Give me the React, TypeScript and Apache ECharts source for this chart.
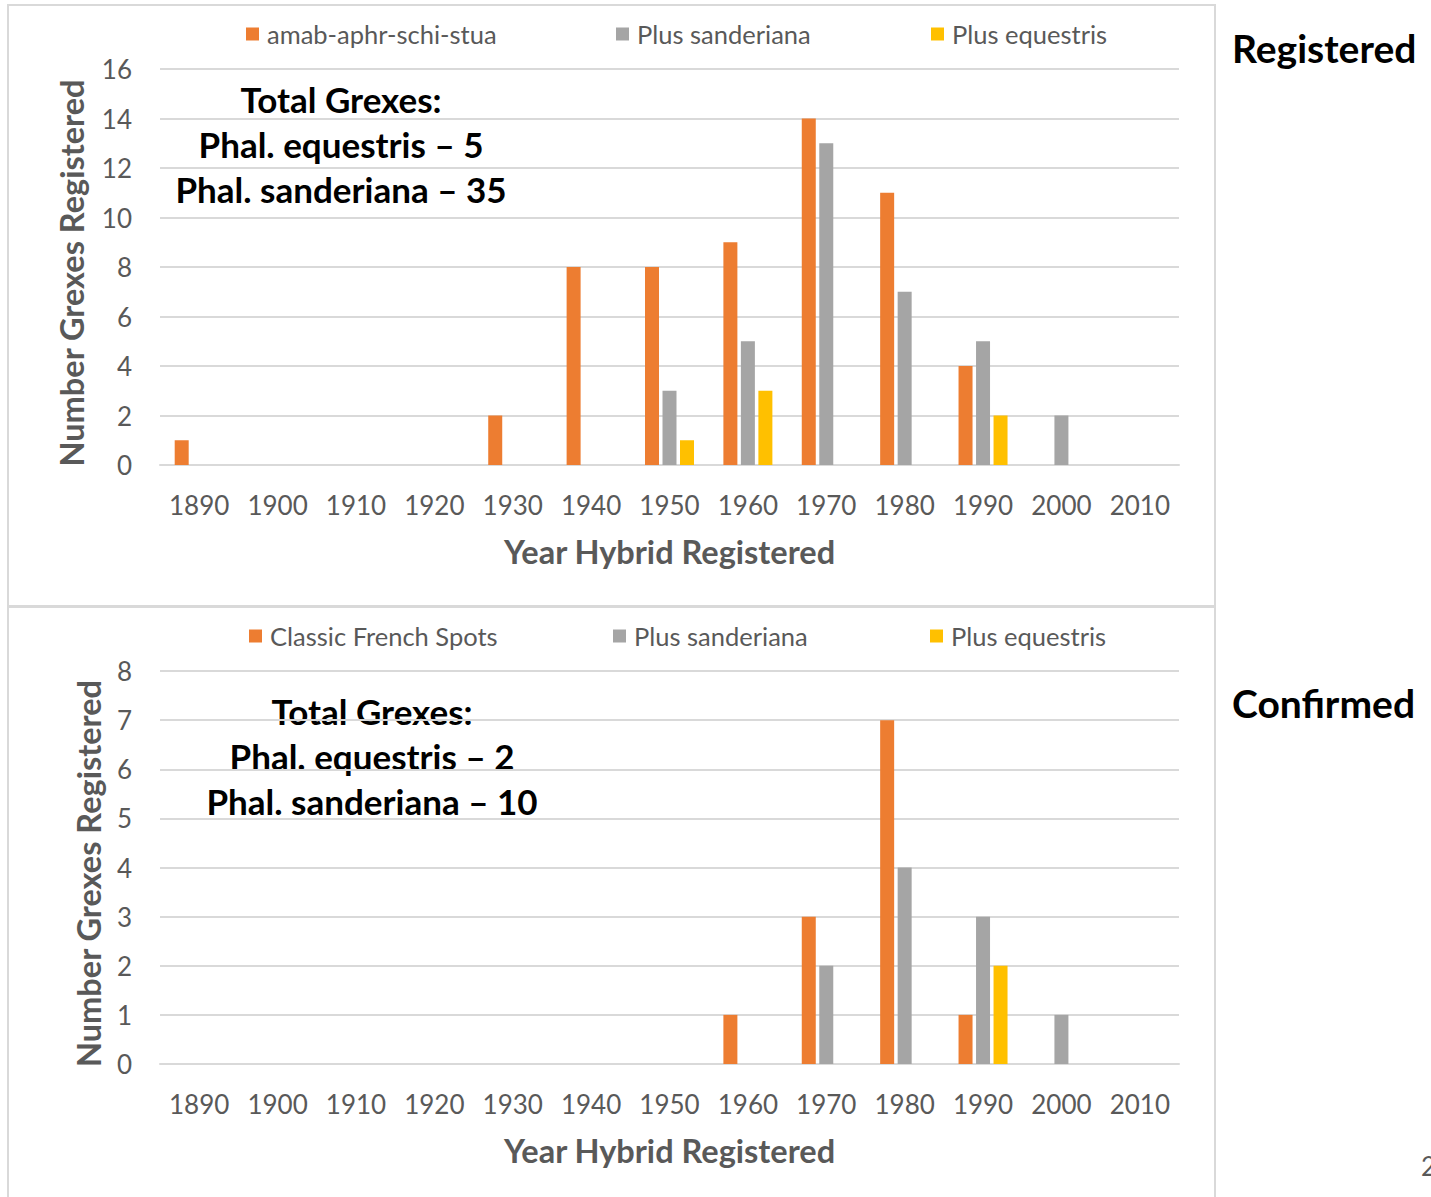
import React, { useEffect, useRef } from "react";
import * as echarts from "echarts";

const years = ["1890", "1900", "1910", "1920", "1930", "1940", "1950", "1960", "1970", "1980", "1990", "2000", "2010"];

// Top chart: Registered
const regNames = ["amab-aphr-schi-stua", "Plus sanderiana", "Plus equestris"];
const regBase = [1, 0, 0, 0, 2, 8, 8, 9, 14, 11, 4, 0, 0];
const regSanderiana = [0, 0, 0, 0, 0, 0, 3, 5, 13, 7, 5, 2, 0];
const regEquestris = [0, 0, 0, 0, 0, 0, 1, 3, 0, 0, 2, 0, 0];
const regTicks = { min: 0, max: 16, interval: 2 };
const regNote = ["Total Grexes:", "Phal. equestris \u2013 5", "Phal. sanderiana \u2013 35"];

// Bottom chart: Confirmed
const confNames = ["Classic French Spots", "Plus sanderiana", "Plus equestris"];
const confBase = [0, 0, 0, 0, 0, 0, 0, 1, 3, 7, 1, 0, 0];
const confSanderiana = [0, 0, 0, 0, 0, 0, 0, 0, 2, 4, 3, 1, 0];
const confEquestris = [0, 0, 0, 0, 0, 0, 0, 0, 0, 0, 2, 0, 0];
const confTicks = { min: 0, max: 8, interval: 1 };
const confNote = ["Total Grexes:", "Phal. equestris \u2013 2", "Phal. sanderiana \u2013 10"];

const colors = ["#ED7D31", "#A5A5A5", "#FFC000"];
const FONT = "Lato, 'Noto Sans', sans-serif";
const GRAY = "#595959";
const LINE = "#d9d9d9";

export default function App() {
  const ref = useRef<HTMLDivElement>(null);
  useEffect(() => {
    document.body.style.margin = "0";
    if (!ref.current) return;
    const chart = echarts.init(ref.current, undefined, { renderer: "svg" });

    const grids = [
      { left: 160, right: 252, top: 69, height: 396 },
      { left: 160, right: 252, top: 671, height: 393 },
    ];

    const xAxis = [0, 1].map((i) => ({
      type: "category",
      gridIndex: i,
      data: years,
      axisTick: { show: false },
      axisLine: { show: true, lineStyle: { color: LINE, width: 2 } },
      axisLabel: { color: GRAY, fontSize: 26, fontFamily: FONT, margin: 27, interval: 0, hideOverlap: false },
      name: "Year Hybrid Registered",
      nameLocation: "middle",
      nameGap: 70,
      nameTextStyle: { color: GRAY, fontSize: 32.5, fontWeight: "bold", fontFamily: FONT },
    }));

    const tickSets = [regTicks, confTicks];
    const yAxis = [0, 1].map((i) => ({
      type: "value",
      gridIndex: i,
      min: tickSets[i].min,
      max: tickSets[i].max,
      interval: tickSets[i].interval,
      axisLine: { show: false },
      axisTick: { show: false },
      splitLine: { lineStyle: { color: LINE, width: 2 } },
      axisLabel: { color: GRAY, fontSize: 26, fontFamily: FONT, margin: 28 },
      name: "Number Grexes Registered",
      nameLocation: "middle",
      nameGap: i === 0 ? 72 : 55,
      nameTextStyle: { color: GRAY, fontSize: 32.5, fontWeight: "bold", fontFamily: FONT, padding: [0, 12, 0, 0] },
    }));

    const mk = (name: string, data: number[], idx: number, color: string) => ({
      type: "bar",
      name,
      data,
      xAxisIndex: idx,
      yAxisIndex: idx,
      barWidth: 14,
      barGap: "25%",
      itemStyle: { color },
    });

    const series = [
      mk(regNames[0], regBase, 0, colors[0]),
      mk(regNames[1], regSanderiana, 0, colors[1]),
      mk(regNames[2], regEquestris, 0, colors[2]),
      mk(confNames[0], confBase, 1, colors[0]),
      mk(confNames[1], confSanderiana, 1, colors[1]),
      mk(confNames[2], confEquestris, 1, colors[2]),
    ];

    const legendPos = [
      { name: regNames[0], left: 246, top: 21 },
      { name: regNames[1], left: 616, top: 21 },
      { name: regNames[2], left: 931, top: 21 },
      { name: confNames[0], left: 249, top: 623 },
      { name: confNames[1], left: 613, top: 623 },
      { name: confNames[2], left: 930, top: 623 },
    ];
    const legend = legendPos.map((l) => ({
      data: [l.name],
      left: l.left,
      top: l.top,
      icon: "rect",
      itemWidth: 13,
      itemHeight: 13,
      padding: 0,
      selectedMode: false,
      textStyle: { color: GRAY, fontSize: 25.5, fontFamily: FONT, padding: [0, 0, 0, 3] },
    }));

    const noteText = (lines: string[], cx: number, y0: number) =>
      lines.map((t, k) => ({
        type: "text",
        x: cx,
        y: y0 + k * 45,
        style: {
          text: t,
          fill: "#000",
          font: `bold 35px ${FONT}`,
          textAlign: "center",
          textVerticalAlign: "middle",
        },
      }));

    const graphic = [
      { type: "rect", shape: { x: 8, y: 5, width: 1207, height: 601 }, style: { fill: "none", stroke: LINE, lineWidth: 2 } },
      { type: "rect", shape: { x: 8, y: 607, width: 1207, height: 600 }, style: { fill: "none", stroke: LINE, lineWidth: 2 } },
      ...noteText(regNote, 341, 99),
      ...noteText(confNote, 372, 711),
      { type: "text", x: 1232, y: 48, style: { text: "Registered", fill: "#000", font: `bold 39px ${FONT}`, textAlign: "left", textVerticalAlign: "middle" } },
      { type: "text", x: 1232, y: 703, style: { text: "Confirmed", fill: "#000", font: `bold 39px ${FONT}`, textAlign: "left", textVerticalAlign: "middle" } },
      { type: "text", x: 1421, y: 1166, style: { text: "2", fill: GRAY, font: `26px ${FONT}`, textAlign: "left", textVerticalAlign: "middle" } },
    ];

    chart.setOption({
      animation: false,
      backgroundColor: "#fff",
      grid: grids,
      xAxis,
      yAxis,
      legend,
      series,
      graphic,
    });
    return () => chart.dispose();
  }, []);
  return <div ref={ref} style={{ width: 1431, height: 1197 }} />;
}
